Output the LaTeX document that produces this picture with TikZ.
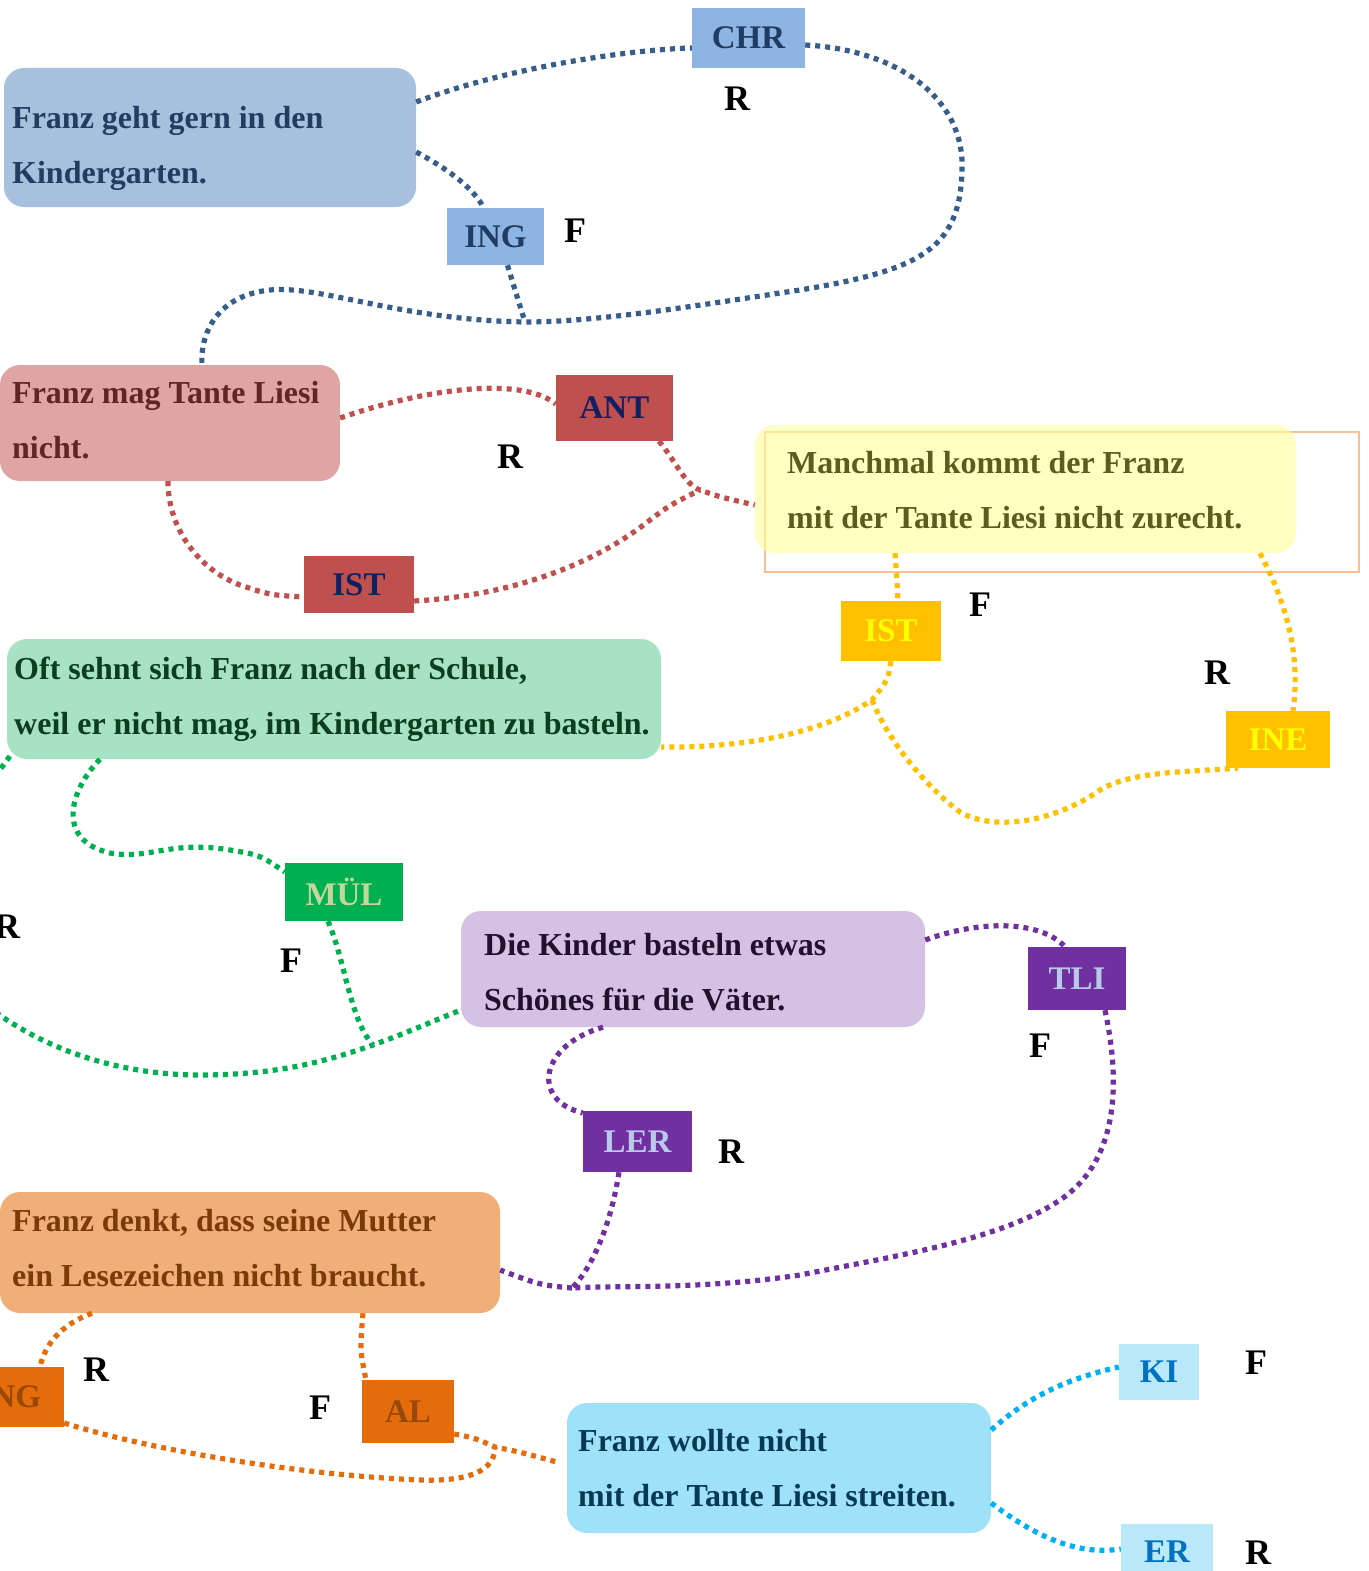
\documentclass[tikz,border=0pt]{standalone}
\usepackage{fontspec}
\setmainfont{Liberation Serif}
\definecolor{bAfill}{HTML}{A7C0DE}\definecolor{bAtxt}{HTML}{213D62}
\definecolor{tgblue}{HTML}{8EB4E3}\definecolor{tgbluetxt}{HTML}{203C63}
\definecolor{cblue}{HTML}{385D8A}
\definecolor{bBfill}{HTML}{DFA5A4}\definecolor{bBtxt}{HTML}{632523}
\definecolor{tgred}{HTML}{C0504D}\definecolor{tgredtxt}{HTML}{0F2063}
\definecolor{bCfill}{HTML}{FFFF99}\definecolor{bCtxt}{HTML}{5C5C1E}
\definecolor{frameor}{HTML}{F9BE93}
\definecolor{tgyel}{HTML}{FFC000}\definecolor{tgyeltxt}{HTML}{FFFF00}
\definecolor{bDfill}{HTML}{A8E2C5}\definecolor{bDtxt}{HTML}{0B3D1E}
\definecolor{tggreen}{HTML}{00B050}\definecolor{tggreentxt}{HTML}{C3D69B}
\definecolor{bEfill}{HTML}{D5C1E3}\definecolor{bEtxt}{HTML}{22102F}
\definecolor{tgpur}{HTML}{7030A0}\definecolor{tgpurtxt}{HTML}{B9C9E8}
\definecolor{bFfill}{HTML}{F0AE79}\definecolor{bFtxt}{HTML}{7A3B0B}
\definecolor{tgor}{HTML}{E46C0A}\definecolor{tgortxt}{HTML}{984807}
\definecolor{bGfill}{HTML}{9FE1F9}\definecolor{bGtxt}{HTML}{073A52}
\definecolor{tgcy}{HTML}{B9E8F9}\definecolor{tgcytxt}{HTML}{0070C0}
\definecolor{ccyan}{HTML}{00B0F0}
\tikzset{
 rbox/.style={rounded corners=20pt, inner sep=0pt, draw=none},
 tag/.style={inner sep=0pt, font=\fontsize{33}{38}\selectfont\bfseries},
 btxt/.style={inner sep=0pt, anchor=base west, font=\fontsize{32}{38}\selectfont\bfseries},
 lbl/.style={inner sep=0pt, font=\fontsize{36}{40}\selectfont\bfseries, text=black},
 conn/.style={line width=5.2pt, dash pattern=on 5pt off 5pt},
}
\begin{document}
\begin{tikzpicture}[x=1pt,y=-1pt]
\clip (0,0) rectangle (1368,1571);
% ---- boxes
\node[rbox, fill=bAfill, minimum width=412pt, minimum height=139pt] (b1) at (210,137.5) {};
\node[btxt, text=bAtxt] (b1a) at (12,128) {Franz geht gern in den};
\node[btxt, text=bAtxt] (b1b) at (12,183) {Kindergarten.};
\node[rbox, fill=bBfill, minimum width=340pt, minimum height=116pt] (b2) at (170,423) {};
\node[btxt, text=bBtxt] (b2a) at (12,403) {Franz mag Tante Liesi};
\node[btxt, text=bBtxt] (b2b) at (12,458) {nicht.};
\node[draw=frameor, line width=1.5pt, inner sep=0pt, minimum width=594pt, minimum height=140pt] (frame) at (1062,502) {};
\node[rbox, fill=bCfill, fill opacity=0.6, minimum width=541pt, minimum height=128pt] (b3) at (1025.5,489) {};
\node[btxt, text=bCtxt] (b3a) at (787,473) {Manchmal kommt der Franz};
\node[btxt, text=bCtxt] (b3b) at (787,528) {mit der Tante Liesi nicht zurecht.};
\node[rbox, fill=bDfill, minimum width=654pt, minimum height=120pt] (b4) at (334,699) {};
\node[btxt, text=bDtxt] (b4a) at (14,679) {Oft sehnt sich Franz nach der Schule,};
\node[btxt, text=bDtxt] (b4b) at (14,734) {weil er nicht mag, im Kindergarten zu basteln.};
\node[rbox, fill=bEfill, minimum width=464pt, minimum height=116pt] (b5) at (693,969) {};
\node[btxt, text=bEtxt] (b5a) at (484,955) {Die Kinder basteln etwas};
\node[btxt, text=bEtxt] (b5b) at (484,1010) {Schönes für die Väter.};
\node[rbox, fill=bFfill, minimum width=500pt, minimum height=121pt] (b6) at (250,1252.5) {};
\node[btxt, text=bFtxt] (b6a) at (12,1231) {Franz denkt, dass seine Mutter};
\node[btxt, text=bFtxt] (b6b) at (12,1286) {ein Lesezeichen nicht braucht.};
\node[rbox, fill=bGfill, minimum width=424pt, minimum height=130pt] (b7) at (779,1468) {};
\node[btxt, text=bGtxt] (b7a) at (578,1451) {Franz wollte nicht};
\node[btxt, text=bGtxt] (b7b) at (578,1506) {mit der Tante Liesi streiten.};
% ---- tags
\node[tag, fill=tgblue, text=tgbluetxt, minimum width=113pt, minimum height=60pt] (chr) at (748.5,38) {CHR};
\node[tag, fill=tgblue, text=tgbluetxt, minimum width=97pt, minimum height=57pt] (ing) at (495.5,236.5) {ING};
\node[tag, fill=tgred, text=tgredtxt, minimum width=117pt, minimum height=66pt] (ant) at (614.5,408) {ANT};
\node[tag, fill=tgred, text=tgredtxt, minimum width=110pt, minimum height=57pt] (ist1) at (359,584.5) {IST};
\node[tag, fill=tgyel, text=tgyeltxt, minimum width=100pt, minimum height=60pt] (ist2) at (891,631) {IST};
\node[tag, fill=tgyel, text=tgyeltxt, minimum width=104pt, minimum height=57pt] (ine) at (1278,739.5) {INE};
\node[tag, fill=tggreen, text=tggreentxt, minimum width=118pt, minimum height=58pt] (mul) at (344,892) {MÜL};
\node[tag, fill=tgpur, text=tgpurtxt, minimum width=98pt, minimum height=63pt] (tli) at (1077,978.5) {TLI};
\node[tag, fill=tgpur, text=tgpurtxt, minimum width=109pt, minimum height=61pt] (ler) at (637.5,1141.5) {LER};
\node[tag, fill=tgor, text=tgortxt, minimum width=108pt, minimum height=60pt] (ing2) at (10,1397) {ING};
\node[tag, fill=tgor, text=tgortxt, minimum width=92pt, minimum height=63pt] (al) at (408,1411.5) {AL};
\node[tag, fill=tgcy, text=tgcytxt, minimum width=80pt, minimum height=56pt] (ki) at (1159,1372) {KI};
\node[tag, fill=tgcy, text=tgcytxt, minimum width=92pt, minimum height=56pt] (er) at (1167,1552) {ER};
% ---- junctions
\coordinate (j1) at (525,322);
\coordinate (j2) at (700,490);
\coordinate (j3) at (872,700);
\coordinate (j4) at (373,1045);
\coordinate (j5) at (572,1288);
\coordinate (j6) at (495,1447);
\coordinate (gout1) at (-20,790);
\coordinate (gout2) at (-20,1000);
% ---- blue
\draw[conn, cblue] ([yshift=35.5pt]b1.east) .. controls (500,70) and (620,50) .. ([yshift=-10pt]chr.west);
\draw[conn, cblue] ([yshift=-7pt]chr.east) .. controls (900,50) and (965,100) .. (962,170)
  .. controls (960,250) and (920,270) .. (800,290) .. controls (700,305) and (600,322) .. (j1)
  .. controls (400,320) and (320,285) .. (270,290) .. controls (220,295) and (200,330) .. ([xshift=32pt]b2.north);
\draw[conn, cblue] ([yshift=-14.5pt]b1.east) .. controls (450,170) and (475,190) .. ([xshift=-12pt]ing.north);
\draw[conn, cblue] ([xshift=12pt]ing.south) .. controls (515,290) .. (j1);
% ---- red
\draw[conn, tgred] ([yshift=5pt]b2.east) .. controls (420,390) and (520,375) .. ([yshift=4pt]ant.west);
\draw[conn, tgred] ([xshift=44.5pt]ant.south) .. controls (675,460) and (685,485) .. (j2) .. controls (720,497) .. ([yshift=-16pt]b3.west);
\draw[conn, tgred] ([xshift=-2pt]b2.south) .. controls (168,530) and (200,570) .. (240,585) .. controls (270,595) .. ([yshift=-12.5pt]ist1.west);
\draw[conn, tgred] ([yshift=-16.5pt]ist1.east) .. controls (520,595) and (600,560) .. (650,520) .. controls (670,505) .. (j2);
% ---- yellow
\draw[conn, tgyel] ([xshift=-130.5pt]b3.south) .. controls (897,580) .. ([xshift=7pt]ist2.north);
\draw[conn, tgyel] ([xshift=234.5pt]b3.south) .. controls (1290,610) and (1300,660) .. ([xshift=15pt]ine.north);
\draw[conn, tgyel] (ist2.south) .. controls (888,680) .. (j3) .. controls (820,735) and (740,748) .. ([yshift=-48pt]b4.east);
\draw[conn, tgyel] (j3) .. controls (890,745) and (930,790) .. (960,812) .. controls (990,830) and (1050,825) .. (1100,790)
  .. controls (1130,772) and (1180,772) .. ([xshift=-40pt]ine.south);
% ---- green
\draw[conn, tggreen] ([xshift=3pt,yshift=3pt]b4.south west) .. controls (0,770) .. (gout1);
\draw[conn, tggreen] ([xshift=-234pt]b4.south) .. controls (70,790) and (55,840) .. (110,853) .. controls (150,860) and (170,840) .. (230,850)
  .. controls (260,855) .. ([yshift=20pt]mul.west);
\draw[conn, tggreen] ([xshift=-16pt]mul.south) .. controls (345,960) and (350,1020) .. (j4);
\draw[conn, tggreen] (gout2) .. controls (40,1050) and (120,1075) .. (200,1075) .. controls (280,1075) and (330,1060) .. (j4)
  .. controls (400,1035) .. ([yshift=-41pt]b5.west);
% ---- purple
\draw[conn, tgpur] ([yshift=29pt]b5.east) .. controls (980,920) and (1040,920) .. ([xshift=-12pt]tli.north);
\draw[conn, tgpur] ([xshift=28pt]tli.south) .. controls (1120,1080) and (1120,1160) .. (1060,1200) .. controls (1000,1240) and (900,1255) .. (800,1275)
  .. controls (700,1290) and (620,1285) .. (j5);
\draw[conn, tgpur] ([xshift=-90pt]b5.south) .. controls (540,1045) and (530,1100) .. ([yshift=28.5pt]ler.west);
\draw[conn, tgpur] ([xshift=-18.5pt]ler.south) .. controls (610,1230) and (590,1270) .. (j5);
\draw[conn, tgpur] (j5) .. controls (540,1285) .. ([yshift=-17.5pt]b6.east);
% ---- orange
\draw[conn, tgor] ([xshift=-158pt]b6.south) .. controls (60,1325) and (45,1345) .. ([xshift=30pt]ing2.north);
\draw[conn, tgor] ([xshift=113pt]b6.south) .. controls (360,1350) .. ([xshift=-42pt]al.north);
\draw[conn, tgor] ([yshift=-26pt]ing2.east) .. controls (150,1450) and (300,1475) .. (420,1480) .. controls (480,1482) and (495,1465) .. (j6);
\draw[conn, tgor] ([yshift=-22.5pt]al.east) .. controls (475,1438) .. (j6) .. controls (520,1452) .. ([xshift=-10pt,yshift=6pt]b7.west);
% ---- cyan
\draw[conn, ccyan] ([yshift=38pt]b7.east) .. controls (1030,1395) and (1070,1378) .. ([yshift=5pt]ki.west);
\draw[conn, ccyan] ([yshift=-35pt]b7.east) .. controls (1040,1540) and (1080,1555) .. ([yshift=3pt]er.west);
% ---- labels
\node[lbl] (l1) at (737,99) {R};
\node[lbl] (l2) at (575,231) {F};
\node[lbl] (l3) at (510,457) {R};
\node[lbl] (l4) at (980,605) {F};
\node[lbl] (l5) at (1217,673) {R};
\node[lbl] (l6) at (7,927) {R};
\node[lbl] (l7) at (291,961) {F};
\node[lbl] (l8) at (1040,1046) {F};
\node[lbl] (l9) at (731,1152) {R};
\node[lbl] (l10) at (96,1370) {R};
\node[lbl] (l11) at (320,1408) {F};
\node[lbl] (l12) at (1256,1363) {F};
\node[lbl] (l13) at (1258,1553) {R};
\end{tikzpicture}
\end{document}
